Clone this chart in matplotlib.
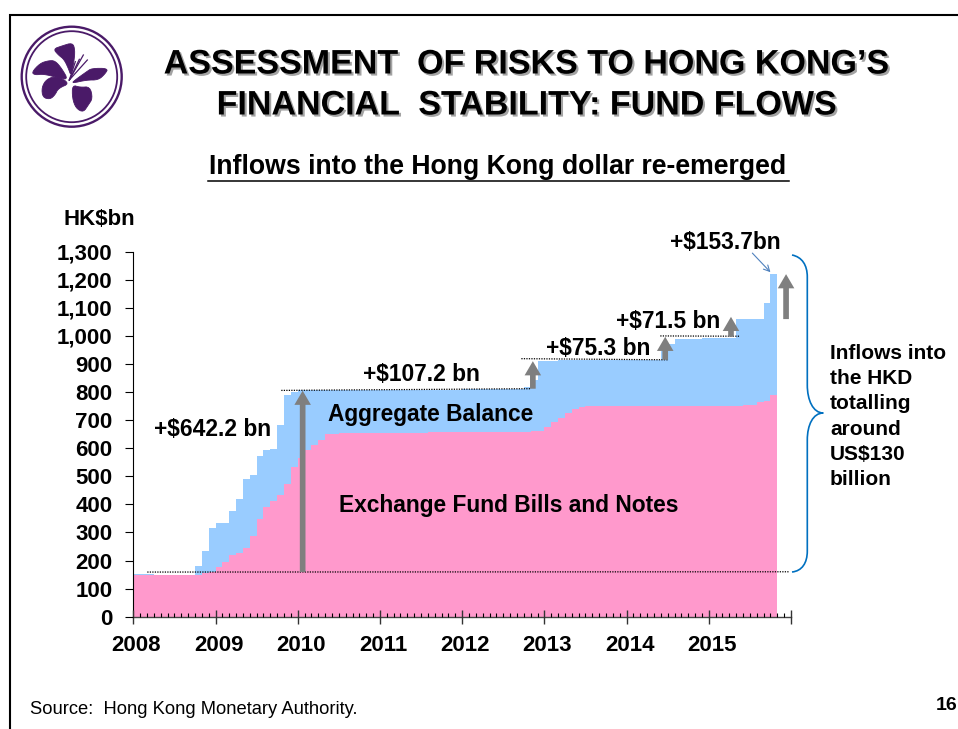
import numpy as np
import matplotlib
matplotlib.use("Agg")
import matplotlib.pyplot as plt
import matplotlib.patheffects as pe
from matplotlib.patches import Circle, Polygon, PathPatch
from matplotlib.path import Path
from matplotlib.ticker import MultipleLocator, FuncFormatter
from matplotlib.transforms import ScaledTranslation

plt.rcParams["font.family"] = "Liberation Sans"
plt.rcParams["font.weight"] = "bold"

# Month-end levels, HK$bn (Jan 2008 - Oct 2015)
aggregate_top = [
    152, 152, 151, 150, 150, 150, 149, 149, 150, 179, 234, 317,
    334, 334, 375, 418, 491, 505, 572, 593, 598, 684, 791, 800,
    806, 806, 806, 806, 806, 806, 806, 806, 807, 807, 807, 807,
    807, 807, 808, 808, 808, 808, 808, 808, 809, 809, 809, 809,
    810, 810, 810, 810, 810, 810, 811, 811, 811, 819, 842, 912,
    912, 912, 913, 913, 913, 913, 913, 914, 914, 914, 914, 914,
    915, 915, 915, 915, 915, 945, 971, 989, 990, 990, 990, 991,
    992, 992, 992, 993, 1061, 1061, 1061, 1062, 1117, 1219,
]
efbn_top = [
    148, 148, 148, 148, 148, 148, 148, 148, 148, 150, 156, 159,
    178, 196, 219, 226, 246, 288, 349, 391, 412, 434, 471, 533,
    567, 592, 611, 630, 649, 652, 653, 653, 654, 654, 654, 654,
    655, 655, 655, 656, 656, 656, 656, 657, 657, 657, 657, 657,
    658, 658, 658, 658, 658, 658, 658, 659, 659, 659, 660, 662,
    676, 693, 707, 726, 740, 747, 750, 750, 750, 750, 750, 750,
    750, 750, 750, 750, 750, 750, 750, 750, 750, 750, 751, 751,
    751, 751, 751, 752, 752, 753, 755, 763, 768, 791,
]
years = [2008, 2009, 2010, 2011, 2012, 2013, 2014, 2015, 2016]
year_labels = ["2008", "2009", "2010", "2011", "2012", "2013", "2014", "2015", ""]
y_ticks = list(range(0, 1400, 100))

# arrows: x, from, to
grey_arrows = [
    (2010.06, 159, 805),
    (2012.86, 812, 910),
    (2014.47, 915, 997),
    (2015.27, 997, 1068),
    (2015.94, 1060, 1220),
]
# dotted guide lines: x0, x1, y0, y1
guides = [
    (2008.17, 2015.98, 159, 160),
    (2009.80, 2012.83, 806, 812),
    (2012.72, 2014.51, 919, 915),
    (2014.41, 2015.37, 1000, 999),
]
# label, x centre, y
labels = [
    ("+$642.2 bn", 2008.97, 666),
    ("Aggregate Balance", 2011.62, 719),
    ("Exchange Fund Bills and Notes", 2012.56, 397),
    ("+$107.2 bn", 2011.51, 861),
    ("+$75.3 bn", 2013.65, 957),
    ("+$71.5 bn", 2014.51, 1053),
    ("+$153.7bn", 2015.20, 1333),
]


def smooth(points, rounds=2):
    # corner cutting so the petals don't look like polygons
    pts = np.array(points, dtype=float)
    for _ in range(rounds):
        nxt = np.roll(pts, -1, axis=0)
        pts = np.column_stack([0.75 * pts + 0.25 * nxt, 0.25 * pts + 0.75 * nxt]).reshape(-1, 2)
    return pts


W, H = 958, 729
fig = plt.figure(figsize=(W / 100, H / 100), dpi=100)

# page furniture in pixel coordinates
bg = fig.add_axes([0, 0, 1, 1])
bg.set_xlim(0, W)
bg.set_ylim(H, 0)
bg.axis("off")

bg.plot([10, 10, W], [H, 15, 15], color="black", lw=1.5, solid_joinstyle="miter")

# logo
purple = "#4A1A68"
bg.add_patch(Circle((71.7, 76.7), 50, fc="none", ec=purple, lw=1.7))
bg.add_patch(Circle((71.7, 76.7), 45.5, fc="none", ec=purple, lw=1.3))
petals = [
    [(160, 147), (185, 138), (218, 128), (225, 150), (222, 185), (213, 228), (205, 205), (192, 178), (175, 165)],
    [(95, 217), (120, 190), (145, 182), (165, 182), (185, 205), (205, 240), (170, 232), (130, 222), (105, 225)],
    [(125, 262), (140, 237), (170, 228), (210, 250), (175, 265), (165, 285), (150, 298), (128, 292)],
    [(217, 255), (240, 262), (270, 260), (278, 295), (265, 315), (250, 337), (228, 325), (217, 295)],
    [(225, 240), (260, 215), (275, 205), (325, 205), (315, 222), (295, 240), (260, 240), (215, 250)],
]
for p in petals:
    bg.add_patch(Polygon(smooth(p) / 3, closed=True, fc=purple, ec=purple, lw=0.6))
for sx, sy in [(226, 185), (238, 178), (250, 165), (262, 180)]:
    bg.plot([208 / 3, sx / 3], [240 / 3, sy / 3], color=purple, lw=0.9)

shadow = [pe.withSimplePatchShadow(offset=(1.5, -1.5), shadow_rgbFace="#666666", alpha=0.6)]
bg.text(526, 65, "ASSESSMENT  OF RISKS TO HONG KONG\u2019S", ha="center", va="center",
        fontsize=24.5, path_effects=shadow)
bg.text(526, 106, "FINANCIAL  STABILITY: FUND FLOWS", ha="center", va="center",
        fontsize=24.5, path_effects=shadow)
bg.text(498, 167, "Inflows into the Hong Kong dollar re-emerged", ha="center", va="center", fontsize=19.2)
bg.plot([208, 789], [181, 181], color="black", lw=1.1)
bg.text(99, 219, "HK$bn", ha="center", va="center", fontsize=16)
bg.text(30, 710, "Source:  Hong Kong Monetary Authority.", ha="left", va="center",
        fontsize=13.2, fontweight="normal")
bg.text(957.5, 705, "16", ha="right", va="center", fontsize=14)
bg.text(830, 416.5, "Inflows into\nthe HKD\ntotalling\naround\nUS$130\nbillion", ha="left", va="center",
        fontsize=15, linespacing=1.41)

# curly brace
brace = Path(
    [(792, 255), (802, 257), (807.3, 265), (807.3, 277),
     (807.3, 385),
     (807.3, 400), (813, 413), (823.3, 413),
     (813, 413), (807.3, 425), (807.3, 440),
     (807.3, 551),
     (807.3, 563), (802, 571), (792, 572)],
    [Path.MOVETO, Path.CURVE4, Path.CURVE4, Path.CURVE4,
     Path.LINETO,
     Path.CURVE4, Path.CURVE4, Path.CURVE4,
     Path.CURVE4, Path.CURVE4, Path.CURVE4,
     Path.LINETO,
     Path.CURVE4, Path.CURVE4, Path.CURVE4],
)
bg.add_patch(PathPatch(brace, fc="none", ec="#0070C0", lw=1.2))

# chart
ax = fig.add_axes([133.3 / W, (H - 616.7) / H, (791 - 133.3) / W, 365 / H])
ax.patch.set_alpha(0)

edges = 2008 + np.arange(len(aggregate_top) + 1) / 12
ax.stairs(aggregate_top, edges, baseline=0, fill=True, color="#99CCFF", lw=0)
ax.stairs(efbn_top, edges, baseline=0, fill=True, color="#FF99CC", lw=0)

ax.set_xlim(2008, 2016)
ax.set_ylim(0, 1300)
ax.set_yticks(y_ticks)
ax.yaxis.set_major_formatter(FuncFormatter(lambda v, _: f"{int(v):,}"))
ax.set_xticks(years)
ax.set_xticklabels(year_labels)
ax.xaxis.set_minor_locator(MultipleLocator(1 / 12))
ax.tick_params(axis="y", labelsize=16, length=5.8, width=0.8, pad=9)
ax.tick_params(axis="x", which="major", labelsize=16, direction="inout", length=9.5, width=1.0,
               color="#333333", pad=8.6)
ax.tick_params(axis="x", which="minor", direction="in", length=3.2, width=0.8)
ax.set_axisbelow(False)
for lab in ax.get_xticklabels():
    lab.set_transform(lab.get_transform() + ScaledTranslation(3 / 100, 0, fig.dpi_scale_trans))
ax.spines["top"].set_visible(False)
ax.spines["right"].set_visible(False)
ax.spines["left"].set_linewidth(0.8)
ax.spines["bottom"].set_linewidth(1.0)
ax.spines["bottom"].set_color("#444444")

for x0, x1, y0, y1 in guides:
    ax.plot([x0, x1], [y0, y1], color="black", lw=0.9, ls=(0, (1, 1)), zorder=4, clip_on=False)

for x, y0, y1 in grey_arrows:
    ax.annotate("", xy=(x, y1), xytext=(x, y0), zorder=5, annotation_clip=False,
                arrowprops=dict(arrowstyle="simple,head_length=0.6,head_width=0.7,tail_width=0.24",
                                color="#7F7F7F", lw=0, shrinkA=0, shrinkB=0, mutation_scale=17))

# thin pointer to the last bar
ax.annotate("", xy=(2015.75, 1227), xytext=(2015.53, 1295), annotation_clip=False,
            arrowprops=dict(arrowstyle="->,head_length=0.35,head_width=0.18", color="#4F81BD", lw=0.8,
                            shrinkA=0, shrinkB=0, mutation_scale=12))

for text, x, y in labels:
    ax.text(x, y, text, ha="center", va="center", fontsize=16.4, zorder=6, clip_on=False)

fig.savefig("out.png", dpi=100)
